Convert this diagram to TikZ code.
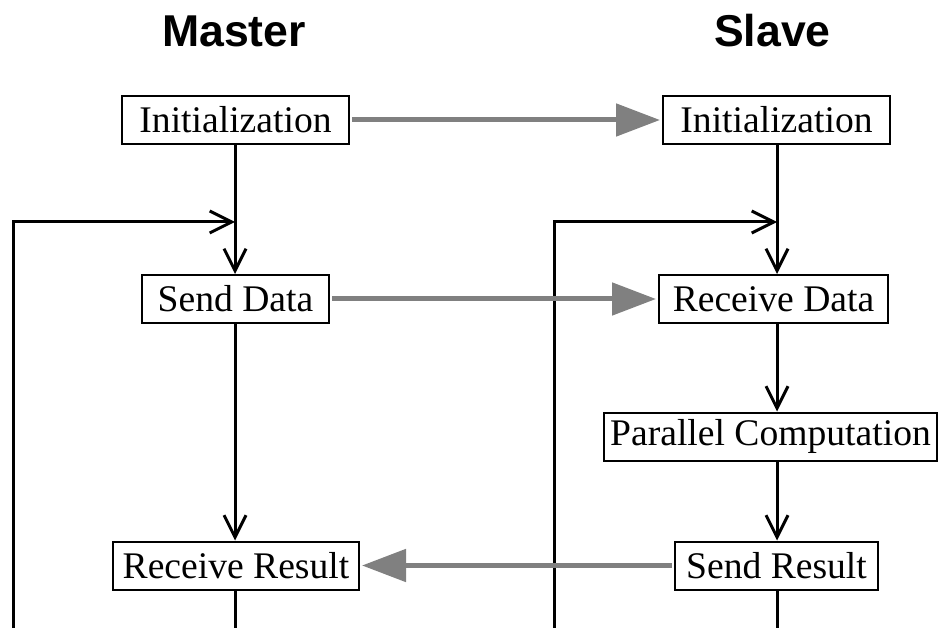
\documentclass[tikz,border=0pt]{standalone}
\usepackage{fontspec}
\setmainfont{Liberation Serif}
\newfontfamily\headfont{Liberation Sans}
\usetikzlibrary{arrows.meta}
\definecolor{msggray}{HTML}{808080}
\begin{document}
\begin{tikzpicture}[x=1pt,y=-1pt,
  stepbox/.style={draw=black, line width=2pt, fill=white, inner sep=0pt,
    minimum height=48pt, font=\fontsize{37.6}{40}\selectfont},
  heading/.style={anchor=base, inner sep=0pt,
    font=\headfont\bfseries\fontsize{44.6}{48}\selectfont},
  flow/.style={draw=black, line width=3pt,
    -{Straight Barb[length=22pt,width=22pt,line width=3pt]}},
  plain/.style={draw=black, line width=3pt},
  message/.style={draw=msggray, line width=5pt,
    -{Triangle[length=44pt,width=32pt]}, shorten <=2pt, shorten >=2pt}]

\useasboundingbox (0,0) rectangle (940,628);

% column headings
\node[heading] (hm) at (234,47) {Master};
\node[heading] (hs) at (772.5,47) {Slave};

% master column
\node[stepbox, minimum width=227pt] (mInit) at (235.5,120) {Initialization};
\node[stepbox, minimum width=187pt] (mSend) at (235.5,299) {Send Data};
\node[stepbox, minimum width=246pt] (mRecv) at (236,565.5) {Receive Result};

% slave column
\node[stepbox, minimum width=227pt] (sInit) at (776.5,120) {Initialization};
\node[stepbox, minimum width=229pt] (sRecv) at (773.5,299) {Receive Data};
\node[stepbox, minimum width=333pt] (sPar)  at (770.5,436.5) {Parallel Computation};
\node[stepbox, minimum width=203pt] (sSend) at (776.5,565.5) {Send Result};

% loop-back paths and open ends at the bottom edge
\coordinate (mJoin) at (235,222);
\coordinate (sJoin) at (777,222);
\coordinate (mLoop) at (13,628);
\coordinate (sLoop) at (554,628);
\coordinate (mEnd) at (235,628);
\coordinate (sEnd) at (777,628);

% master flow
\draw[flow] (mInit.south -| mJoin) -- (mJoin |- mSend.north);
\draw[flow] (mSend.south -| mJoin) -- (mJoin |- mRecv.north);
\draw[plain] (mRecv.south -| mJoin) -- (mEnd);
\draw[flow] (mLoop) |- (mJoin);

% slave flow
\draw[flow] (sInit.south -| sJoin) -- (sJoin |- sRecv.north);
\draw[flow] (sRecv.south -| sJoin) -- (sJoin |- sPar.north);
\draw[flow] (sPar.south -| sJoin) -- (sJoin |- sSend.north);
\draw[plain] (sSend.south -| sJoin) -- (sEnd);
\draw[flow] (sLoop) |- (sJoin);

% messages between master and slave
\draw[message] (mInit.east) -- (sInit.west);
\draw[message] (mSend.east) -- (sRecv.west);
\draw[message] (sSend.west) -- (mRecv.east);
\end{tikzpicture}
\end{document}
